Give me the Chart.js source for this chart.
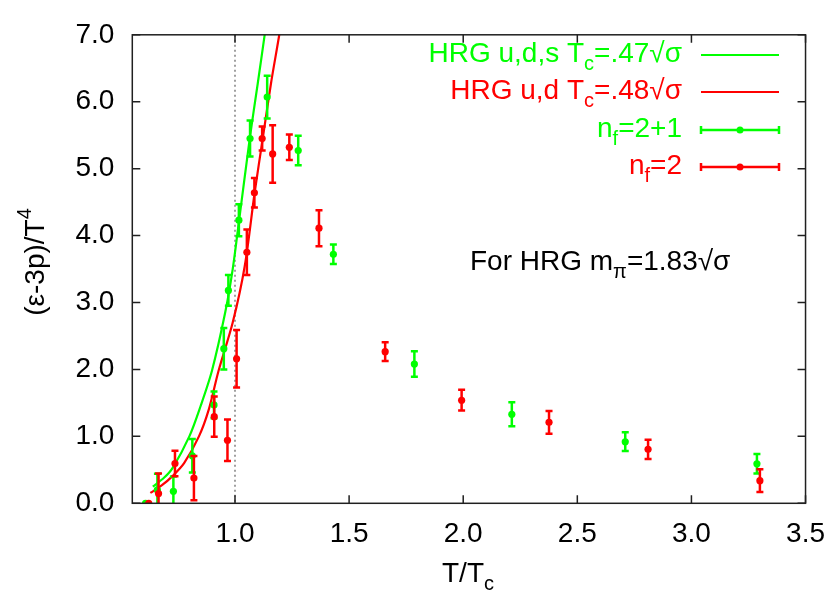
<!DOCTYPE html>
<html>
<head>
<meta charset="utf-8">
<script src="https://cdn.jsdelivr.net/npm/chart.js@4.4.1/dist/chart.umd.min.js"></script>
<style>
  html, body { margin: 0; padding: 0; background: #fff; }
  #wrap { width: 839px; height: 592px; position: relative; }
</style>
</head>
<body>
<div id="wrap"><canvas id="c"></canvas></div>
<script>
// ─── Data ─────────────────────────────────────────────────────────────────────

const xTicks = [1.0, 1.5, 2.0, 2.5, 3.0, 3.5];
const yTicks = [0, 1, 2, 3, 4, 5, 6, 7];

// HRG u,d,s  Tc = .47 sqrt(sigma)
const hrgUdsT = [0.64, 0.69, 0.727, 0.80, 0.849, 0.899, 0.957, 0.99, 1.017, 1.065, 1.10, 1.13, 1.137];
const hrgUdsV = [0.25, 0.385, 0.53, 1.0, 1.45, 1.98, 2.85, 3.5, 4.2, 5.46, 6.28, 7.0, 7.2];

// HRG u,d  Tc = .48 sqrt(sigma)
const hrgUdT = [0.629, 0.68, 0.727, 0.777, 0.842, 0.885, 0.928, 0.99, 1.043, 1.086, 1.122, 1.158, 1.194, 1.202];
const hrgUdV = [0.155, 0.27, 0.41, 0.60, 1.0, 1.4, 1.98, 2.7, 3.55, 4.64, 5.46, 6.28, 7.0, 7.2];

// lattice n_f = 2+1
const nf21T   = [0.608, 0.66, 0.73, 0.813, 0.908, 0.951, 0.971, 1.017, 1.066, 1.141, 1.277, 1.431, 1.786, 2.213, 2.71, 3.287];
const nf21V   = [0.0, 0.2, 0.18, 0.71, 1.47, 2.31, 3.18, 4.23, 5.45, 6.07, 5.27, 3.72, 2.08, 1.33, 0.92, 0.59];
const nf21Err = [0, 0.24, 0.22, 0.25, 0.2, 0.31, 0.23, 0.24, 0.27, 0.32, 0.22, 0.145, 0.19, 0.18, 0.14, 0.145];

// lattice n_f = 2
const nf2T   = [0.622, 0.665, 0.737, 0.82, 0.909, 0.967, 1.007, 1.052, 1.085, 1.119, 1.165, 1.238, 1.368, 1.658, 1.993, 2.376, 2.81, 3.30];
const nf2V   = [0.0, 0.145, 0.594, 0.377, 1.294, 0.942, 2.16, 3.75, 4.64, 5.45, 5.22, 5.32, 4.11, 2.265, 1.54, 1.21, 0.806, 0.338];
const nf2Err = [0, 0.3, 0.19, 0.33, 0.3, 0.31, 0.43, 0.34, 0.22, 0.18, 0.43, 0.19, 0.27, 0.14, 0.155, 0.17, 0.145, 0.17];

const GREEN = "#00ff00";
const RED = "#ff0000";
const FONT = "'Liberation Sans', Arial, sans-serif";
const SIZE = 28;
const SUB = 20;

const pts = (xs, ys) => xs.map((x, i) => ({ x, y: ys[i] }));

// ─── Helpers ──────────────────────────────────────────────────────────────────

// parts: [text, kind] with kind "n" | "sub" | "sup"
function richWidth(ctx, parts) {
    let w = 0;
    for (const [t, k] of parts) {
        ctx.font = `${k === "n" ? SIZE : SUB}px ${FONT}`;
        w += ctx.measureText(t).width;
    }
    return w;
}

function drawRich(ctx, parts, x, y, align, color) {
    const w = richWidth(ctx, parts);
    let cx = align === "right" ? x - w : align === "center" ? x - w / 2 : x;
    ctx.fillStyle = color;
    ctx.textAlign = "left";
    ctx.textBaseline = "alphabetic";
    for (const [t, k] of parts) {
        ctx.font = `${k === "n" ? SIZE : SUB}px ${FONT}`;
        const dy = k === "sub" ? 8 : k === "sup" ? -13 : 0;
        ctx.fillText(t, cx, y + dy);
        cx += ctx.measureText(t).width;
    }
}

// ─── Plugins ──────────────────────────────────────────────────────────────────

const errorBars = {
    id: "errorBars",
    beforeDatasetDraw(chart, args) {
        const ds = chart.data.datasets[args.index];
        if (!ds.errors) return;
        const ys = chart.scales.y;
        const a = chart.chartArea;
        const ctx = chart.ctx;
        ctx.save();
        ctx.beginPath();
        ctx.rect(a.left, a.top, a.right - a.left, a.bottom - a.top);
        ctx.clip();
        ctx.strokeStyle = ds.backgroundColor;
        ctx.lineWidth = 2.5;
        args.meta.data.forEach((p, i) => {
            const e = ds.errors[i];
            if (!e) return;
            const v = ds.data[i].y;
            const yt = ys.getPixelForValue(v + e);
            const yb = ys.getPixelForValue(v - e);
            ctx.beginPath();
            ctx.moveTo(p.x, yt); ctx.lineTo(p.x, yb);
            ctx.moveTo(p.x - 3.5, yt); ctx.lineTo(p.x + 3.5, yt);
            ctx.moveTo(p.x - 3.5, yb); ctx.lineTo(p.x + 3.5, yb);
            ctx.stroke();
        });
        ctx.restore();
    },
};

const decorations = {
    id: "decorations",
    beforeDatasetsDraw(chart) {
        // dotted line at T = Tc
        const { ctx, chartArea: a } = chart;
        const px = chart.scales.x.getPixelForValue(1.0);
        ctx.save();
        ctx.strokeStyle = "#808080";
        ctx.lineWidth = 1.5;
        ctx.setLineDash([2, 3]);
        ctx.beginPath();
        ctx.moveTo(px, a.top);
        ctx.lineTo(px, a.bottom);
        ctx.stroke();
        ctx.restore();
    },
    afterDraw(chart) {
        const { ctx, chartArea: a } = chart;
        const xs = chart.scales.x, ys = chart.scales.y;
        ctx.save();

        // frame + inward ticks on all sides
        ctx.strokeStyle = "#202020";
        ctx.lineWidth = 1.5;
        ctx.strokeRect(a.left, a.top, a.right - a.left, a.bottom - a.top);
        ctx.beginPath();
        for (const v of xTicks) {
            const px = xs.getPixelForValue(v);
            ctx.moveTo(px, a.bottom); ctx.lineTo(px, a.bottom - 8);
            ctx.moveTo(px, a.top); ctx.lineTo(px, a.top + 8);
        }
        for (const v of yTicks) {
            const py = ys.getPixelForValue(v);
            ctx.moveTo(a.left, py); ctx.lineTo(a.left + 8, py);
            ctx.moveTo(a.right, py); ctx.lineTo(a.right - 8, py);
        }
        ctx.stroke();

        // legend
        const textRight = 682, s0 = 701, s1 = 779;
        const rows = [
            { parts: [["HRG u,d,s T", "n"], ["c", "sub"], ["=.47\u221A\u03C3", "n"]], color: GREEN, y: 55, bars: false },
            { parts: [["HRG u,d T", "n"], ["c", "sub"], ["=.48\u221A\u03C3", "n"]], color: RED, y: 92, bars: false },
            { parts: [["n", "n"], ["f", "sub"], ["=2+1", "n"]], color: GREEN, y: 130, bars: true },
            { parts: [["n", "n"], ["f", "sub"], ["=2", "n"]], color: RED, y: 167, bars: true },
        ];
        for (const r of rows) {
            drawRich(ctx, r.parts, textRight, r.y + 7, "right", r.color);
            ctx.strokeStyle = r.color;
            ctx.lineWidth = r.bars ? 2.5 : 2;
            ctx.beginPath();
            ctx.moveTo(s0, r.y); ctx.lineTo(s1, r.y);
            if (r.bars) {
                ctx.moveTo(s0, r.y - 4); ctx.lineTo(s0, r.y + 4);
                ctx.moveTo(s1, r.y - 4); ctx.lineTo(s1, r.y + 4);
            }
            ctx.stroke();
            if (r.bars) {
                ctx.fillStyle = r.color;
                ctx.beginPath();
                ctx.arc((s0 + s1) / 2, r.y, 3.5, 0, Math.PI * 2);
                ctx.fill();
            }
        }

        // annotation
        drawRich(ctx, [["For HRG m", "n"], ["\u03C0", "sub"], ["=1.83\u221A\u03C3", "n"]], 470, 270, "left", "#000");

        // axis titles
        drawRich(ctx, [["T/T", "n"], ["c", "sub"]], 468, 582, "center", "#000");
        ctx.translate(44, 262);
        ctx.rotate(-Math.PI / 2);
        drawRich(ctx, [["(\u03B5-3p)/T", "n"], ["4", "sup"]], 0, 0, "center", "#000");
        ctx.restore();
    },
};

// ─── Chart ────────────────────────────────────────────────────────────────────

new Chart(document.getElementById("c"), {
    type: "scatter",
    data: {
        datasets: [
            {
                label: "HRG u,d,s",
                data: pts(hrgUdsT, hrgUdsV),
                showLine: true,
                borderColor: GREEN,
                borderWidth: 2.2,
                pointRadius: 0,
                tension: 0.3,
                clip: 0,
                order: 4,
            },
            {
                label: "HRG u,d",
                data: pts(hrgUdT, hrgUdV),
                showLine: true,
                borderColor: RED,
                borderWidth: 2.2,
                pointRadius: 0,
                tension: 0.3,
                clip: 0,
                order: 3,
            },
            {
                label: "nf=2+1",
                data: pts(nf21T, nf21V),
                errors: nf21Err,
                backgroundColor: GREEN,
                borderWidth: 0,
                pointRadius: 3.6,
                order: 2,
            },
            {
                label: "nf=2",
                data: pts(nf2T, nf2V),
                errors: nf2Err,
                backgroundColor: RED,
                borderWidth: 0,
                pointRadius: 3.6,
                order: 1,
            },
        ],
    },
    options: {
        responsive: true,
        maintainAspectRatio: false,
        animation: false,
        events: [],
        layout: { padding: { top: 20, right: 22.3, left: 0, bottom: 0 } },
        plugins: {
            legend: { display: false },
            tooltip: { enabled: false },
        },
        scales: {
            x: {
                type: "linear",
                min: 0.55,
                max: 3.5,
                afterBuildTicks: (s) => { s.ticks = xTicks.map((v) => ({ value: v })); },
                afterFit: (s) => { s.height = 88.7; },
                grid: { display: false, drawTicks: false },
                border: { display: false },
                ticks: {
                    padding: 14,
                    maxRotation: 0,
                    color: "#000",
                    font: { size: SIZE, family: FONT },
                    callback: (v) => Number(v).toFixed(1),
                },
            },
            y: {
                type: "linear",
                min: 0,
                max: 7,
                afterBuildTicks: (s) => { s.ticks = yTicks.map((v) => ({ value: v })); },
                afterFit: (s) => { s.width = 132.3; },
                grid: { display: false, drawTicks: false },
                border: { display: false },
                ticks: {
                    padding: 18,
                    color: "#000",
                    font: { size: SIZE, family: FONT },
                    callback: (v) => Number(v).toFixed(1),
                },
            },
        },
    },
    plugins: [errorBars, decorations],
});
</script>
</body>
</html>
